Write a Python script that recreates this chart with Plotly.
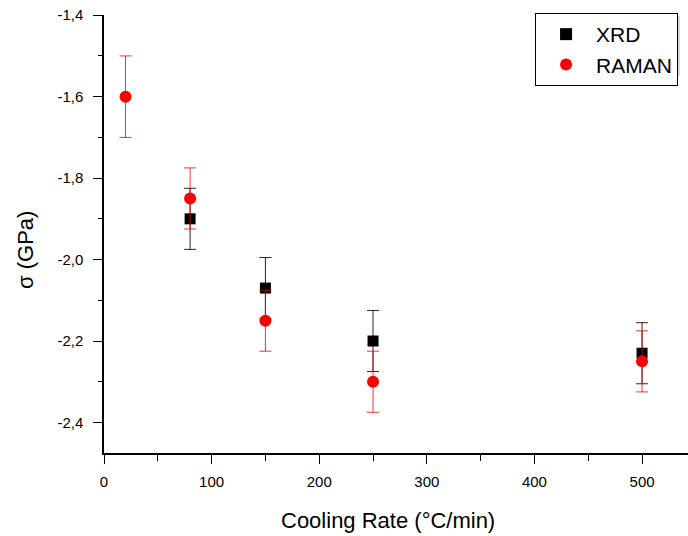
import plotly.graph_objects as go

# Data
xrd_x = [80, 150, 250, 500]
xrd_y = [-1.90, -2.07, -2.20, -2.23]
xrd_err = [0.075, 0.075, 0.075, 0.075]

raman_x = [20, 80, 150, 250, 500]
raman_y = [-1.60, -1.85, -2.15, -2.30, -2.25]
raman_err = [0.10, 0.075, 0.075, 0.075, 0.075]

x_ticks = [0, 100, 200, 300, 400, 500]
x_ticktext = ["0", "100", "200", "300", "400", "500"]
y_ticks = [-2.4, -2.2, -2.0, -1.8, -1.6, -1.4]
y_ticktext = ["-2,4", "-2,2", "-2,0", "-1,8", "-1,6", "-1,4"]

FONT = "Liberation Sans, Arial, Helvetica, sans-serif"

fig = go.Figure()
fig.add_trace(go.Scatter(
    x=xrd_x, y=xrd_y, mode="markers", name="XRD",
    marker=dict(symbol="square", size=11, color="black"),
    error_y=dict(type="data", array=xrd_err, color="rgba(0,0,0,0.85)", thickness=1, width=6),
))
fig.add_trace(go.Scatter(
    x=raman_x, y=raman_y, mode="markers", name="RAMAN",
    marker=dict(symbol="circle", size=12, color="#ff0000"),
    error_y=dict(type="data", array=raman_err, color="rgba(235,0,0,0.8)", thickness=1, width=6),
))

fig.update_layout(
    width=688, height=536,
    margin=dict(l=104, r=0, t=15, b=83, autoexpand=False),
    paper_bgcolor="white", plot_bgcolor="white",
    font=dict(family=FONT, size=15, color="black"),
    showlegend=True,
    legend=dict(
        x=0.983, y=1.0046, xanchor="right", yanchor="top",
        bgcolor="white", bordercolor="black", borderwidth=1,
        font=dict(family=FONT, size=21, color="black"),
        itemsizing="constant", itemwidth=50, tracegroupgap=0,
    ),
    shapes=[
        # faint drop shadow behind the legend box
        dict(type="rect", xref="paper", yref="paper",
             x0=(536 - 104) / 584, x1=(680 - 104) / 584,
             y0=(453 - 76) / 438, y1=(453 - 16) / 438,
             fillcolor="rgba(0,0,0,0.15)", line=dict(width=0), layer="above"),
    ],
    annotations=[
        dict(text="Cooling Rate (°C/min)", xref="paper", yref="paper",
             x=0.487, y=-0.155, xanchor="center", yanchor="middle",
             showarrow=False, font=dict(family=FONT, size=22, color="black")),
        dict(text="σ (GPa)", xref="paper", yref="paper", textangle=-90,
             x=-0.1336, y=0.4635, xanchor="center", yanchor="middle",
             showarrow=False, font=dict(family=FONT, size=22, color="black")),
    ],
)
fig.update_xaxes(
    range=[0, 542.7], tickvals=x_ticks, ticktext=x_ticktext,
    showgrid=False, zeroline=False, showline=True, linecolor="black", linewidth=1.5,
    ticks="outside", ticklen=9, tickwidth=1.2, tickcolor="black", ticklabelstandoff=5,
    minor=dict(dtick=50, tick0=0, ticks="outside", ticklen=6, tickwidth=1.2, tickcolor="black", showgrid=False),
    tickfont=dict(size=15),
)
fig.update_yaxes(
    range=[-2.475, -1.3995], tickvals=y_ticks, ticktext=y_ticktext,
    showgrid=False, zeroline=False, showline=True, linecolor="black", linewidth=1.5,
    ticks="outside", ticklen=9, tickwidth=1.2, tickcolor="black", ticklabelstandoff=7,
    ticklabeloverflow="allow",
    minor=dict(dtick=0.1, tick0=-2.4, ticks="outside", ticklen=4, tickwidth=1.2, tickcolor="black", showgrid=False),
    tickfont=dict(size=15),
)

fig.write_html("out.html", config={"displayModeBar": False},
               post_script="document.body.style.margin='0';")
